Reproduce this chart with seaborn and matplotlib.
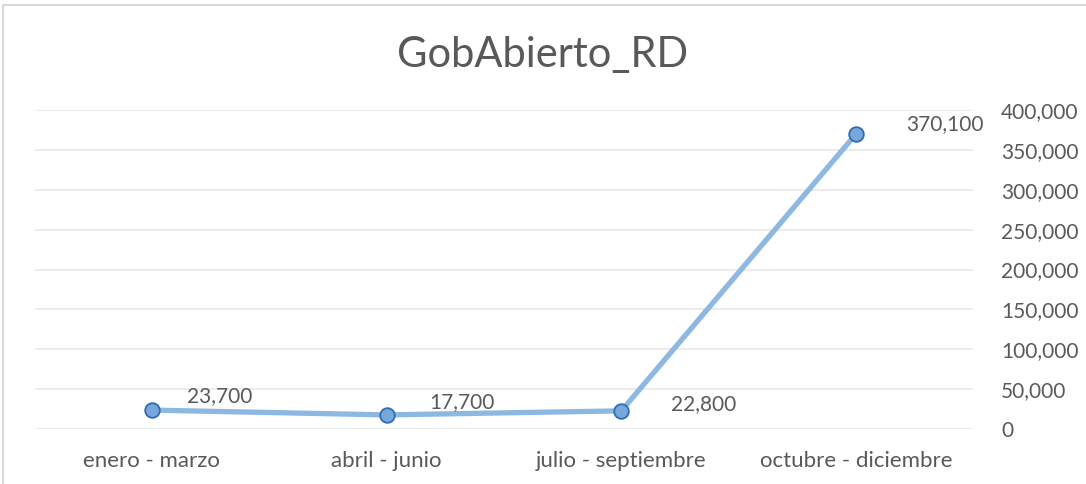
import pandas as pd
import matplotlib.pyplot as plt
import seaborn as sns
from matplotlib.ticker import FuncFormatter
from matplotlib.patches import Rectangle

# datos del gráfico
trimestres = ['enero - marzo', 'abril - junio', 'julio - septiembre', 'octubre - diciembre']
valores = [23700, 17700, 22800, 370100]
etiquetas = ['23,700', '17,700', '22,800', '370,100']
titulo = 'GobAbierto_RD'

data = pd.DataFrame({'trimestre': trimestres, 'valor': valores})

sns.set_style('white')
plt.rcParams['font.family'] = ['Lato', 'DejaVu Sans']

gris = '#595959'
fig = plt.figure(figsize=(10.86, 4.84), dpi=100)
ax = fig.add_axes([0.0318, 0.1136, 0.8646, 0.6591])

sns.lineplot(data=data, x='trimestre', y='valor', ax=ax, sort=False,
             color='#8DB8E2', linewidth=3.8, marker='o', markersize=10.5,
             markerfacecolor='#77A7DB', markeredgecolor='#2E6DB4', markeredgewidth=1.3)

# desplazamiento de las etiquetas (puntos), como en Excel
desp = [(25, 10), (31, 9), (36, 5), (36, 7)]
for i, (v, t) in enumerate(zip(valores, etiquetas)):
    ax.annotate(t, (i, v), xytext=desp[i], textcoords='offset points',
                ha='left', va='center', fontsize=15, color=gris)

ax.set_xlim(-0.5, 3.5)
ax.set_ylim(0, 400000)
ax.set_yticks(range(0, 400001, 50000))
ax.yaxis.set_major_formatter(FuncFormatter(lambda v, p: f'{int(v):,}'))
ax.yaxis.tick_right()
ax.grid(axis='y', color='#EBEBEB', linewidth=1.3)
ax.set_axisbelow(True)
for s in ax.spines.values():
    s.set_visible(False)
ax.tick_params(axis='y', length=0, pad=20, labelsize=15, labelcolor=gris)
ax.tick_params(axis='x', length=0, pad=16, labelsize=16, labelcolor=gris)
for lbl in ax.get_yticklabels():
    lbl.set_horizontalalignment('left')
ax.set_xlabel('')
ax.set_ylabel('')

fig.text(0.5, 0.887, titulo, ha='center', va='center', fontsize=30, color=gris)
fig.patches.append(Rectangle((0.003, -0.01), 1.1, 1.0, transform=fig.transFigure,
                             fill=False, edgecolor='#D9D9D9', linewidth=1.5))

plt.savefig('out.png', dpi=100)
